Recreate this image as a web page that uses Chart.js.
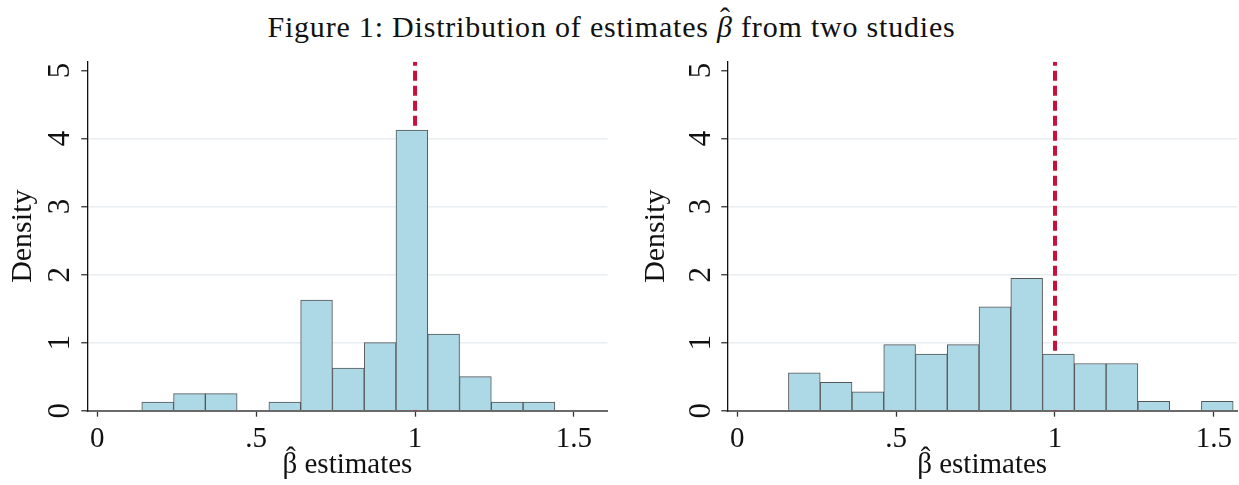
<!DOCTYPE html>
<html>
<head>
<meta charset="utf-8">
<script src="https://cdn.jsdelivr.net/npm/chart.js@4.4.1/dist/chart.umd.min.js"></script>
<style>
  body { margin: 0; background: #fff; width: 1239px; height: 485px; overflow: hidden; position: relative; }
  #title { position: absolute; left: 0; top: 9px; width: 1223px; text-align: center;
           font-family: 'Liberation Serif', serif; font-size: 30px; letter-spacing: 0.8px; color: #111; line-height: 36px; }
  .hat { position: relative; display: inline-block; }
  .hat span { position: absolute; left: 3px; top: -9px; font-style: normal; }
  .panel { position: absolute; top: 0; }
</style>
</head>
<body>
<div id="title">Figure 1: Distribution of estimates <i class="hat">β<span>ˆ</span></i> from two studies</div>
<div class="panel" style="left:0"><canvas id="leftChart" width="620" height="485"></canvas></div>
<div class="panel" style="left:620px"><canvas id="rightChart" width="619" height="485"></canvas></div>
<script>
// --- data ---
const leftBinMids = [0.19, 0.29, 0.39, 0.49, 0.59, 0.69, 0.79, 0.89, 0.99, 1.09, 1.19, 1.29, 1.39];
const leftDensity = [0.125, 0.25, 0.25, 0, 0.125, 1.625, 0.625, 1.0, 4.125, 1.125, 0.5, 0.125, 0.125];

const rightBinMids = [0.211, 0.311, 0.411, 0.511, 0.611, 0.711, 0.811, 0.911, 1.011, 1.111, 1.211, 1.311, 1.411, 1.511];
const rightDensity = [0.556, 0.417, 0.278, 0.972, 0.833, 0.972, 1.528, 1.944, 0.833, 0.694, 0.694, 0.139, 0, 0.139];

const trueBeta = 1;
const xTickValues = [0, 0.5, 1, 1.5];
const xTickLabels = ['0', '.5', '1', '1.5'];
const yTickValues = [0, 1, 2, 3, 4, 5];
const yMax = 5.13;
const xTitleText = 'β estimates';
const xTitleSize = 29;
const xTitlePadBottom = 2;

Chart.defaults.font.family = "'Liberation Serif', serif";
Chart.defaults.color = '#111';

// circumflex over the beta of the x axis title
const betaHat = {
    id: 'betaHat',
    afterDraw(chart) {
        const s = chart.scales.x;
        const ctx = chart.ctx;
        const lineH = xTitleSize * 1.2;
        const cx = (s.left + s.right) / 2;
        const cy = s.bottom - xTitlePadBottom - lineH / 2;
        ctx.save();
        ctx.font = xTitleSize + "px 'Liberation Serif', serif";
        const w = ctx.measureText(xTitleText).width;
        const wb = ctx.measureText('β').width;
        ctx.fillStyle = '#111';
        ctx.textAlign = 'center';
        ctx.textBaseline = 'middle';
        ctx.fillText('ˆ', cx - w / 2 + wb / 2 + 1, cy - 6);
        ctx.restore();
    }
};

function makeChart(id, mids, density, opt) {
    const ctx = document.getElementById(id).getContext('2d');
    return new Chart(ctx, {
        data: {
            datasets: [
                {
                    type: 'bar',
                    data: mids.map((m, i) => ({ x: m, y: density[i] })),
                    backgroundColor: '#add8e6',
                    borderColor: '#555',
                    borderWidth: 1,
                    barPercentage: 1,
                    categoryPercentage: 1,
                    order: 0
                },
                {
                    type: 'line',
                    data: [{ x: trueBeta, y: 0 }, { x: trueBeta, y: yMax }],
                    borderColor: '#c8103a',
                    borderWidth: 4,
                    borderDash: [10, 5],
                    pointRadius: 0,
                    order: 1
                }
            ]
        },
        options: {
            responsive: false,
            animation: false,
            layout: { padding: { left: opt.padLeft, right: opt.padRight, top: 61.7, bottom: 0 } },
            plugins: { legend: { display: false }, tooltip: { enabled: false } },
            scales: {
                x: {
                    type: 'linear',
                    offset: false,
                    min: opt.xMin,
                    max: opt.xMax,
                    afterBuildTicks: s => { s.ticks = xTickValues.map(v => ({ value: v })); },
                    afterFit: s => { s.height = 74.3; },
                    grid: { offset: false, drawOnChartArea: false, tickLength: 6, tickColor: '#333', tickWidth: 1.3 },
                    border: { color: '#6a6a6a', width: 2 },
                    ticks: {
                        padding: 5,
                        font: { size: 29 },
                        callback: v => xTickLabels[xTickValues.indexOf(v)]
                    },
                    title: {
                        display: true,
                        text: xTitleText,
                        font: { size: xTitleSize },
                        padding: { top: 0, bottom: xTitlePadBottom }
                    }
                },
                y: {
                    type: 'linear',
                    min: 0,
                    max: yMax,
                    afterBuildTicks: s => { s.ticks = yTickValues.map(v => ({ value: v })); },
                    afterFit: s => { s.width = opt.yWidth; },
                    grid: {
                        color: c => (c.tick && c.tick.value > 0 && c.tick.value < 5) ? '#e8eef2' : 'rgba(0,0,0,0)',
                        lineWidth: 1.5,
                        tickLength: 6,
                        tickColor: '#333',
                        tickWidth: 1.3
                    },
                    border: { color: '#111', width: 1.3 },
                    ticks: {
                        minRotation: 90,
                        maxRotation: 90,
                        crossAlign: 'center',
                        padding: opt.yTickPad,
                        font: { size: 31 }
                    },
                    title: {
                        display: true,
                        text: 'Density',
                        font: { size: 30 },
                        padding: { top: 5, bottom: 0 }
                    }
                }
            }
        },
        plugins: [betaHat]
    });
}

makeChart('leftChart', leftBinMids, leftDensity, {
    padLeft: 0, padRight: 12.4, yWidth: 87.3, yTickPad: 13, xMin: -0.0315, xMax: 1.606
});
makeChart('rightChart', rightBinMids, rightDensity, {
    padLeft: 13.5, padRight: 2, yWidth: 93.8, yTickPad: 12, xMin: -0.0315, xMax: 1.573
});
</script>
</body>
</html>
